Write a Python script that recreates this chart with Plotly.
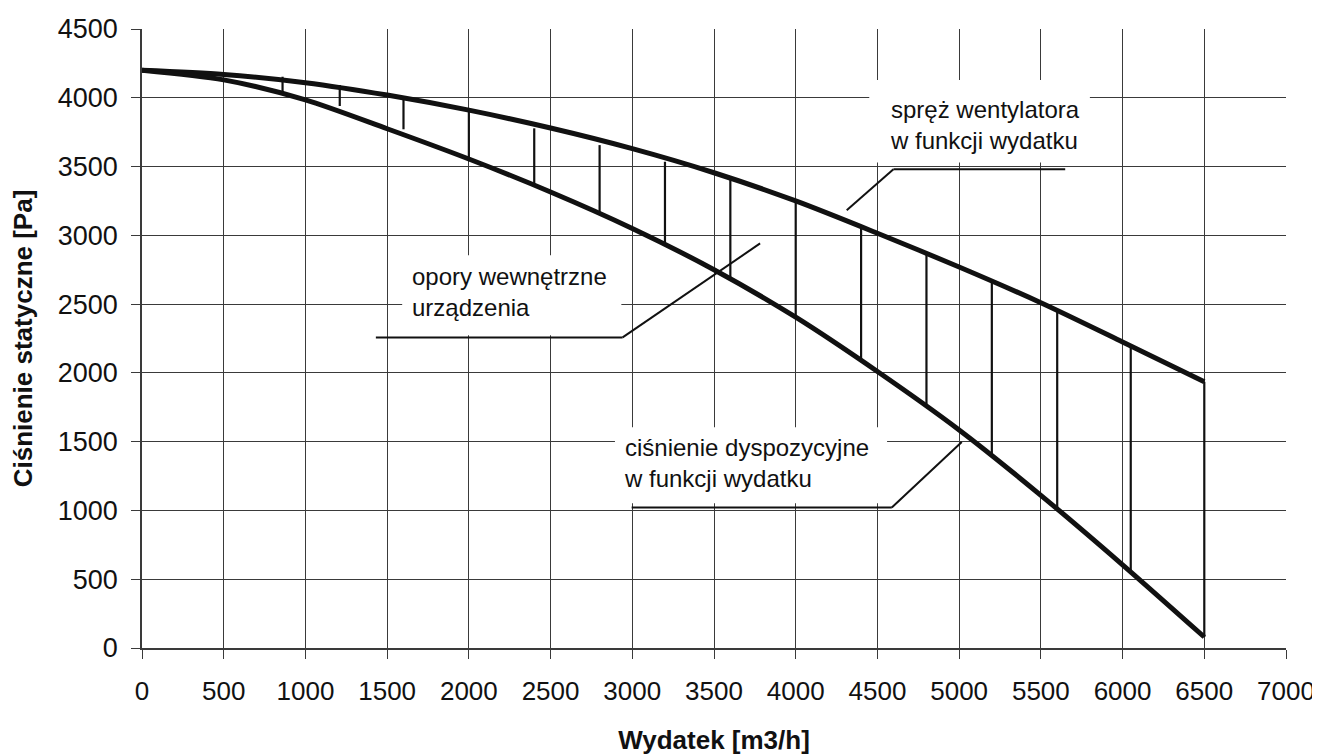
import plotly.graph_objects as go

# ---- data ----
flow = [0, 500, 1000, 1500, 2000, 2500, 3000, 3500, 4000, 4500, 5000, 5500, 6000, 6500]
fan_pressure = [4200, 4170, 4110, 4020, 3910, 3780, 3630, 3455, 3250, 3015, 2770, 2510, 2225, 1935]
available_pressure = [4200, 4130, 3985, 3775, 3555, 3315, 3050, 2750, 2405, 2010, 1585, 1110, 605, 80]

hatch_flow = [860, 1210, 1600, 2000, 2400, 2800, 3200, 3600, 4000, 4400, 4800, 5200, 5600, 6050, 6500]
hatch_top = [4153, 4093, 3996, 3906, 3778, 3656, 3535, 3402, 3244, 3062, 2868, 2674, 2450, 2190, 1935]
hatch_bottom = [4025, 3940, 3771, 3560, 3378, 3160, 2929, 2674, 2396, 2078, 1765, 1401, 1002, 560, 80]

x_ticks = [0, 500, 1000, 1500, 2000, 2500, 3000, 3500, 4000, 4500, 5000, 5500, 6000, 6500, 7000]
y_ticks = [0, 500, 1000, 1500, 2000, 2500, 3000, 3500, 4000, 4500]

FONT = "Liberation Sans, Arial, Helvetica, sans-serif"
INK = "#111111"
GRID = "#3a3a3a"

fig = go.Figure()

# hatch (vertical lines between curves)
hx, hy = [], []
for xv, yt, yb in zip(hatch_flow, hatch_top, hatch_bottom):
    hx += [xv, xv, None]
    hy += [yb, yt, None]
fig.add_trace(go.Scatter(x=hx, y=hy, mode="lines", line=dict(color=INK, width=2.2),
                         hoverinfo="skip", showlegend=False))

fig.add_trace(go.Scatter(x=flow, y=fan_pressure, mode="lines",
                         line=dict(color=INK, width=5, shape="spline", smoothing=0.8), showlegend=False))
fig.add_trace(go.Scatter(x=flow, y=available_pressure, mode="lines",
                         line=dict(color=INK, width=5, shape="spline", smoothing=0.8), showlegend=False))

# white boxes behind the labels (cover gridlines)
boxes = [
    (4450, 5800, 3530, 4130),
    (1592, 2933, 2273, 2855),
    (2894, 4559, 1052, 1605),
]
shapes = []
for x0, x1, y0, y1 in boxes:
    shapes.append(dict(type="rect", xref="x", yref="y", x0=x0, x1=x1, y0=y0, y1=y1,
                       fillcolor="white", line=dict(width=0), layer="between"))

# leader lines
leaders = [
    [(5649, 3480), (4598, 3480), (4312, 3183)],
    [(1431, 2258), (2941, 2258), (3782, 2941)],
    [(2996, 1021), (4588, 1021), (5016, 1498)],
]
for pts in leaders:
    for (xa, ya), (xb, yb) in zip(pts[:-1], pts[1:]):
        shapes.append(dict(type="line", xref="x", yref="y", x0=xa, y0=ya, x1=xb, y1=yb,
                           line=dict(color=INK, width=2), layer="above"))

annotations = [
    dict(text="spręż wentylatora<br>w funkcji wydatku", x=4565, y=3802),
    dict(text="opory wewnętrzne<br>urządzenia", x=1639, y=2591),
    dict(text="ciśnienie dyspozycyjne<br>w funkcji wydatku", x=2935, y=1345),
]
for a in annotations:
    a.update(xref="x", yref="y", xanchor="left", yanchor="middle", align="left",
             showarrow=False, font=dict(family=FONT, size=24, color=INK))

# page body has an 8px margin, so the figure is sized/offset to compensate
fig.update_layout(
    width=1308, height=747,
    margin=dict(l=134, r=30, t=21, b=107),
    paper_bgcolor="white", plot_bgcolor="white",
    shapes=shapes, annotations=annotations,
    font=dict(family=FONT, color=INK),
)

fig.update_xaxes(
    range=[0, 7000], tickvals=x_ticks, ticktext=[str(v) for v in x_ticks],
    automargin=False,
    showgrid=True, gridcolor=GRID, gridwidth=1.3,
    showline=True, linecolor=GRID, linewidth=1.5,
    ticks="outside", ticklen=9, tickcolor=GRID, tickwidth=1.3,
    tickfont=dict(family=FONT, size=26, color=INK), ticklabelstandoff=10,
    zeroline=False,
    title=dict(text="<b>Wydatek [m3/h]</b>", font=dict(family=FONT, size=26, color=INK), standoff=32),
)
fig.update_yaxes(
    range=[0, 4500], tickvals=y_ticks, ticktext=[str(v) for v in y_ticks],
    automargin=False,
    showgrid=True, gridcolor=GRID, gridwidth=1.3,
    showline=True, linecolor=GRID, linewidth=1.5,
    ticks="outside", ticklen=9, tickcolor=GRID, tickwidth=1.3,
    tickfont=dict(family=FONT, size=27, color=INK), ticklabelstandoff=8,
    zeroline=False,
    title=dict(text="<b>Ciśnienie statyczne [Pa]</b>", font=dict(family=FONT, size=26, color=INK), standoff=20),
)

fig.write_html("out.html")
